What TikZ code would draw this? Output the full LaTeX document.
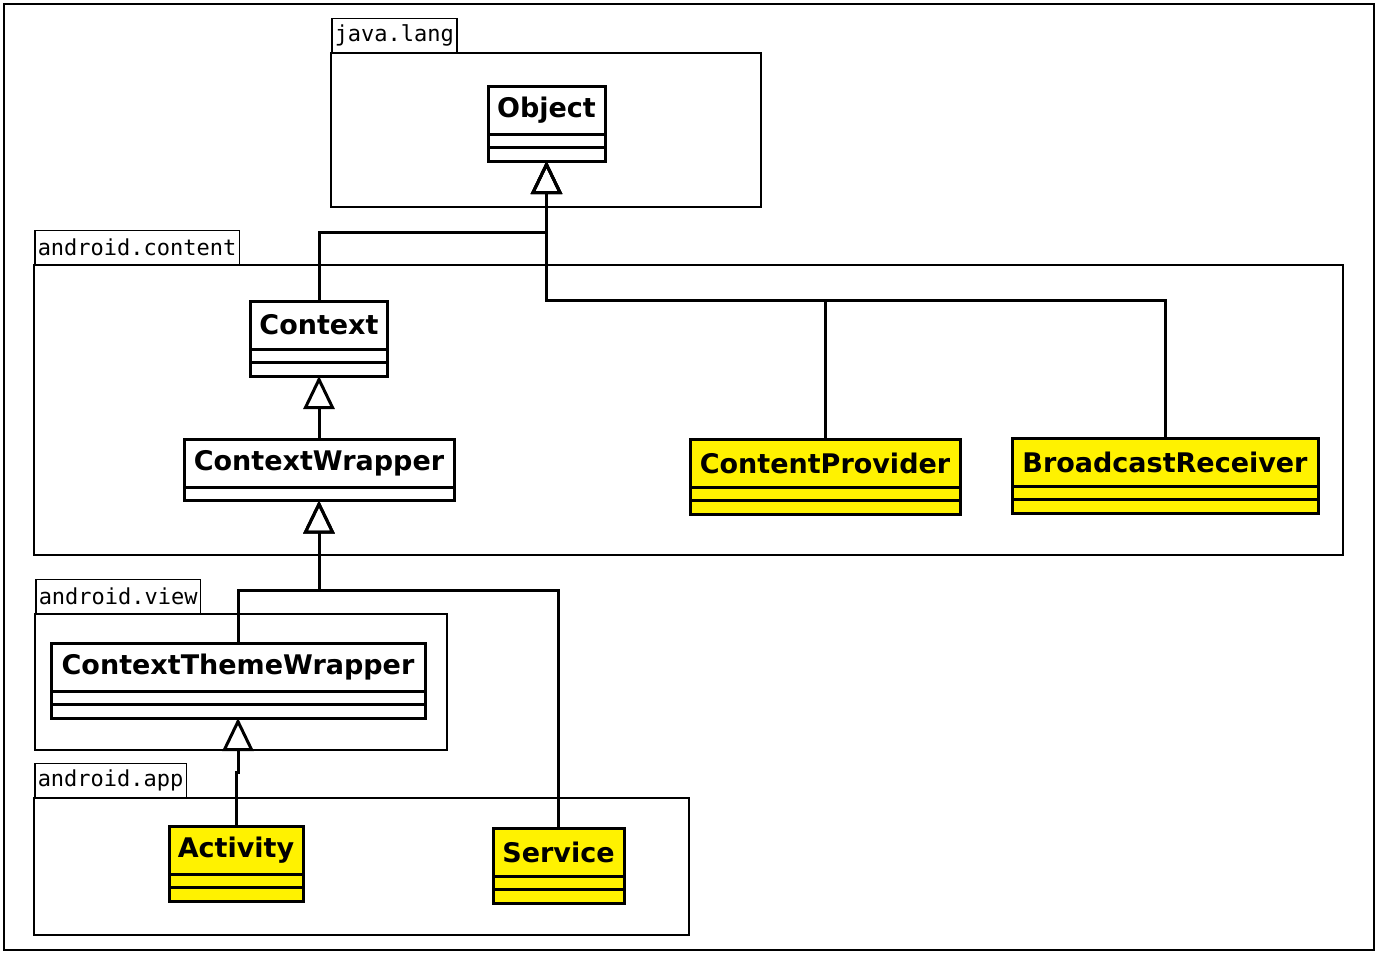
\documentclass[tikz,border=0pt]{standalone}
\usepackage{fontspec}
\usepackage{tikz}
\usetikzlibrary{arrows.meta}

\newfontfamily\dvsans{DejaVu Sans}
\newfontfamily\dvmono{DejaVu Sans Mono}

\begin{document}
\begin{tikzpicture}[x=0.5pt, y=-0.5pt]
	\tikzstyle{cls} = [draw, line width=1.5pt, fill=white, anchor=north,
	minimum height=24pt, inner sep=0pt, outer sep=0pt,
	font=\dvsans\bfseries\fontsize{13.5}{16}\selectfont]
	\tikzstyle{part} = [draw, line width=1.5pt, fill=white, anchor=north,
	minimum height=6.75pt, inner sep=0pt, outer sep=0pt]
	\tikzstyle{api} = [fill=yellow]
	\tikzstyle{pkg} = [draw, line width=0.75pt]
	\tikzstyle{pkgtab} = [draw, line width=0.75pt, anchor=south west,
	minimum height=17pt, inner xsep=1.5pt, inner ysep=0pt,
	font=\dvmono\fontsize{11}{13}\selectfont]
	\tikzstyle{inh} = [line width=1.5pt,
	-{Triangle[open, length=16.5pt, width=15.5pt]}]

	\useasboundingbox (0,0) rectangle (1378,954);
	\draw[line width=0.75pt] (4,4) rectangle (1374,950);

	% packages
	\draw[pkg] (331,53) rectangle (761,207);
	\node[pkgtab] (pjava) at (331,53) {java.lang};
	\draw[pkg] (34,265) rectangle (1343,555);
	\node[pkgtab] (pcontent) at (34,265) {android.content};
	\draw[pkg] (35,614) rectangle (447,750);
	\node[pkgtab] (pview) at (35,614) {android.view};
	\draw[pkg] (34,798) rectangle (689,935);
	\node[pkgtab] (papp) at (34,798) {android.app};

	% classes
	\node[cls, minimum width=58.5pt] (obj) at (546.5,86) {Object};
	\node[part, minimum width=58.5pt] (obja) at (obj.south) {};
	\node[part, minimum width=58.5pt] (objb) at (obja.south) {};

	\node[cls, minimum width=68.5pt] (ctx) at (319,301) {Context};
	\node[part, minimum width=68.5pt] (ctxa) at (ctx.south) {};
	\node[part, minimum width=68.5pt] (ctxb) at (ctxa.south) {};

	\node[cls, minimum width=135pt] (ctxw) at (319,439) {ContextWrapper};
	\node[part, minimum width=135pt] (ctxwa) at (ctxw.south) {};

	\node[cls, api, minimum width=135pt] (ctp) at (825,439) {ContentProvider};
	\node[part, api, minimum width=135pt] (ctpa) at (ctp.south) {};
	\node[part, api, minimum width=135pt] (ctpb) at (ctpa.south) {};

	\node[cls, api, minimum width=153pt] (brc) at (1165,438) {BroadcastReceiver};
	\node[part, api, minimum width=153pt] (brca) at (brc.south) {};
	\node[part, api, minimum width=153pt] (brcb) at (brca.south) {};

	\node[cls, minimum width=187pt] (ctw) at (238,643) {ContextThemeWrapper};
	\node[part, minimum width=187pt] (ctwa) at (ctw.south) {};
	\node[part, minimum width=187pt] (ctwb) at (ctwa.south) {};

	\node[cls, api, minimum width=67pt] (act) at (236,826) {Activity};
	\node[part, api, minimum width=67pt] (acta) at (act.south) {};
	\node[part, api, minimum width=67pt] (actb) at (acta.south) {};

	\node[cls, api, minimum width=65.5pt] (srv) at (558.5,828) {Service};
	\node[part, api, minimum width=65.5pt] (srva) at (srv.south) {};
	\node[part, api, minimum width=65.5pt] (srvb) at (srva.south) {};

	% inheritance
	\coordinate (jobj) at (546.5,232);
	\coordinate (jcp) at (546.5,300);
	\coordinate (jcw) at (319,590);
	\coordinate (jact) at (238,772);

	\draw[inh] (ctx.north) |- (jobj) -- (objb.south);
	\draw[inh] (ctp.north) |- (jcp) -- (objb.south);
	\draw[inh] (brc.north) |- (jcp) -- (objb.south);
	\draw[inh] (ctxw.north) -- (ctxb.south);
	\draw[inh] (ctw.north) |- (jcw) -- (ctxwa.south);
	\draw[inh] (srv.north) |- (jcw) -- (ctxwa.south);
	\draw[inh] (act.north) |- (jact) -- (ctwb.south);
\end{tikzpicture}
\end{document}
